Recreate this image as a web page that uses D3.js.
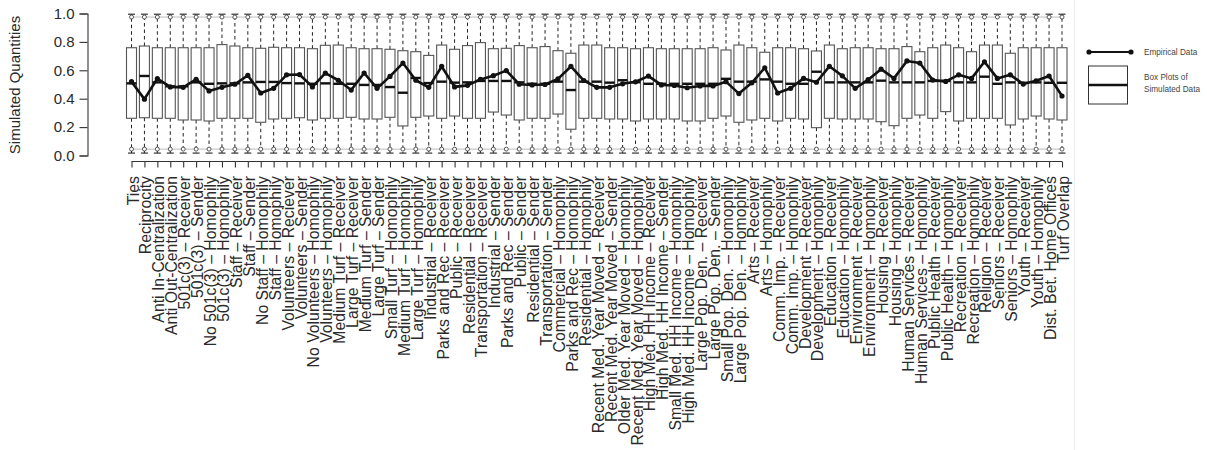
<!DOCTYPE html>
<html>
<head>
<meta charset="utf-8">
<script src="https://cdn.jsdelivr.net/npm/d3@7"></script>
<style>
  body { margin: 0; background: #fff; }
  svg { display: block; }
  text { font-family: "Liberation Sans", Arial, sans-serif; }
</style>
</head>
<body>
<svg id="chart" width="1207" height="450"></svg>
<script>
// Model terms shown along the x axis
const categories = [
  "Ties", "Reciprocity", "Anti In-Centralization", "Anti Out-Centralization",
  "501c(3) – Receiver", "501c(3) – Sender", "No 501c(3) – Homophily", "501c(3) – Homophily",
  "Staff – Receiver", "Staff – Sender", "No Staff – Homophily", "Staff – Homophily",
  "Volunteers – Reciever", "Volunteers – Sender", "No Volunteers – Homophily", "Volunteers – Homophily",
  "Medium Turf – Receiver", "Large Turf – Receiver", "Medium Turf – Sender", "Large Turf – Sender",
  "Small Turf – Homophily", "Medium Turf – Homophily", "Large Turf – Homophily",
  "Industrial – Receiver", "Parks and Rec – Receiver", "Public – Receiver", "Residential – Receiver",
  "Transportation – Receiver", "Industrial – Sender", "Parks and Rec – Sender", "Public – Sender",
  "Residential – Sender", "Transportation – Sender", "Commercial – Homophily",
  "Parks and Rec – Homophily", "Residential – Homophily",
  "Recent Med. Year Moved – Receiver", "Recent Med. Year Moved – Sender",
  "Older Med. Year Moved – Homophily", "Recent Med. Year Moved – Homophily",
  "High Med. HH Income – Receiver", "High Med. HH Income – Sender",
  "Small Med. HH Income – Homophily", "High Med. HH Income – Homophily",
  "Large Pop. Den. – Receiver", "Large Pop. Den. – Sender",
  "Small Pop. Den. – Homophily", "Large Pop. Den. – Homophily",
  "Arts – Receiver", "Arts – Homophily", "Comm. Imp. – Receiver", "Comm. Imp. – Homophily",
  "Development – Receiver", "Development – Homophily", "Education – Receiver", "Education – Homophily",
  "Environment – Receiver", "Environment – Homophily", "Housing – Receiver", "Housing – Homophily",
  "Human Services – Receiver", "Human Services – Homophily", "Public Health – Receiver",
  "Public Health – Homophily", "Recreation – Receiver", "Recreation – Homophily",
  "Religion – Receiver", "Seniors – Receiver", "Seniors – Homophily", "Youth – Receiver",
  "Youth – Homophily", "Dist. Bet. Home Offices", "Turf Overlap"
];

// Simulated quantiles: lower hinge, median, upper hinge
const q1 = [
  0.262, 0.266, 0.262, 0.262, 0.250, 0.250, 0.243, 0.262, 0.262, 0.262, 0.234, 0.257,
  0.262, 0.266, 0.250, 0.262, 0.262, 0.269, 0.257, 0.257, 0.269, 0.208, 0.269, 0.278,
  0.262, 0.278, 0.262, 0.262, 0.306, 0.285, 0.250, 0.262, 0.262, 0.292, 0.185, 0.262, 0.262,
  0.257, 0.257, 0.243, 0.257, 0.257, 0.257, 0.243, 0.243, 0.262, 0.278, 0.234, 0.250,
  0.262, 0.243, 0.262, 0.257, 0.196, 0.262, 0.257, 0.257, 0.257, 0.238, 0.210, 0.262,
  0.285, 0.262, 0.309, 0.243, 0.262, 0.262, 0.262, 0.215, 0.257, 0.278, 0.257, 0.250
];
const median = [
  0.508, 0.560, 0.515, 0.487, 0.487, 0.515, 0.505, 0.508, 0.508, 0.515, 0.518, 0.518,
  0.510, 0.508, 0.505, 0.508, 0.505, 0.505, 0.497, 0.497, 0.482, 0.442, 0.546, 0.510,
  0.520, 0.513, 0.515, 0.525, 0.525, 0.525, 0.515, 0.505, 0.505, 0.520, 0.461, 0.520, 0.520,
  0.513, 0.530, 0.516, 0.505, 0.505, 0.505, 0.505, 0.505, 0.505, 0.540, 0.520, 0.520,
  0.536, 0.520, 0.505, 0.505, 0.590, 0.515, 0.515, 0.515, 0.515, 0.527, 0.515, 0.515,
  0.515, 0.525, 0.525, 0.515, 0.515, 0.555, 0.505, 0.515, 0.512, 0.515, 0.512, 0.512
];
const q3 = [
  0.759, 0.771, 0.759, 0.759, 0.759, 0.759, 0.759, 0.781, 0.771, 0.759, 0.755, 0.762,
  0.759, 0.759, 0.752, 0.776, 0.778, 0.759, 0.752, 0.752, 0.748, 0.738, 0.731, 0.705,
  0.778, 0.748, 0.774, 0.795, 0.752, 0.755, 0.774, 0.759, 0.767, 0.738, 0.720, 0.778, 0.778,
  0.759, 0.759, 0.752, 0.759, 0.752, 0.752, 0.752, 0.752, 0.759, 0.743, 0.778, 0.759,
  0.727, 0.759, 0.759, 0.752, 0.736, 0.778, 0.752, 0.759, 0.759, 0.752, 0.752, 0.767,
  0.731, 0.759, 0.778, 0.759, 0.731, 0.778, 0.778, 0.720, 0.759, 0.759, 0.759, 0.759
];

// Whisker ends of the simulated values
const whiskerLow = [
  0.017, 0.017, 0.017, 0.017, 0.017, 0.017, 0.017, 0.017, 0.017, 0.017, 0.017, 0.017,
  0.017, 0.017, 0.017, 0.017, 0.017, 0.017, 0.017, 0.017, 0.017, 0.017, 0.017, 0.017,
  0.017, 0.017, 0.017, 0.017, 0.017, 0.017, 0.017, 0.017, 0.017, 0.017, 0.017, 0.017, 0.017,
  0.017, 0.017, 0.017, 0.017, 0.017, 0.017, 0.017, 0.017, 0.017, 0.017, 0.017, 0.017,
  0.017, 0.017, 0.017, 0.017, 0.017, 0.017, 0.017, 0.017, 0.017, 0.017, 0.017, 0.017,
  0.017, 0.017, 0.017, 0.017, 0.017, 0.017, 0.017, 0.017, 0.017, 0.017, 0.017, 0.017
];
const whiskerHigh = [
  0.995, 0.995, 0.995, 0.995, 0.995, 0.995, 0.995, 0.995, 0.995, 0.995, 0.995, 0.995,
  0.995, 0.995, 0.995, 0.995, 0.995, 0.995, 0.995, 0.995, 0.995, 0.995, 0.995, 0.995,
  0.995, 0.995, 0.995, 0.995, 0.995, 0.995, 0.995, 0.995, 0.995, 0.995, 0.995, 0.995, 0.995,
  0.995, 0.995, 0.995, 0.995, 0.995, 0.995, 0.995, 0.995, 0.995, 0.995, 0.995, 0.995,
  0.995, 0.995, 0.995, 0.995, 0.995, 0.995, 0.995, 0.995, 0.995, 0.995, 0.995, 0.995,
  0.995, 0.995, 0.995, 0.995, 0.995, 0.995, 0.995, 0.995, 0.995, 0.995, 0.995, 0.995
];

// Outer simulated bounds (open circles joined by a gray line)
const boundLow = [
  0.045, 0.045, 0.045, 0.045, 0.045, 0.045, 0.045, 0.045, 0.045, 0.045, 0.045, 0.045,
  0.045, 0.045, 0.045, 0.045, 0.045, 0.045, 0.045, 0.045, 0.045, 0.045, 0.045, 0.045,
  0.045, 0.045, 0.045, 0.045, 0.045, 0.045, 0.045, 0.045, 0.045, 0.045, 0.045, 0.045, 0.045,
  0.045, 0.045, 0.045, 0.045, 0.045, 0.045, 0.045, 0.045, 0.045, 0.045, 0.045, 0.045,
  0.045, 0.045, 0.045, 0.045, 0.045, 0.045, 0.045, 0.045, 0.045, 0.045, 0.045, 0.045,
  0.045, 0.045, 0.045, 0.045, 0.045, 0.045, 0.045, 0.045, 0.045, 0.045, 0.045, 0.045
];
const boundHigh = [
  0.975, 0.975, 0.975, 0.975, 0.975, 0.975, 0.975, 0.975, 0.975, 0.975, 0.975, 0.975,
  0.975, 0.975, 0.975, 0.975, 0.975, 0.975, 0.975, 0.975, 0.975, 0.975, 0.975, 0.975,
  0.975, 0.975, 0.975, 0.975, 0.975, 0.975, 0.975, 0.975, 0.975, 0.975, 0.975, 0.975, 0.975,
  0.975, 0.975, 0.975, 0.975, 0.975, 0.975, 0.975, 0.975, 0.975, 0.975, 0.975, 0.975,
  0.975, 0.975, 0.975, 0.975, 0.975, 0.975, 0.975, 0.975, 0.975, 0.975, 0.975, 0.975,
  0.975, 0.975, 0.975, 0.975, 0.975, 0.975, 0.975, 0.975, 0.975, 0.975, 0.975, 0.975
];

// Observed (empirical) quantile per term
const empirical = [
  0.520, 0.397, 0.542, 0.483, 0.480, 0.537, 0.455, 0.480, 0.502, 0.564, 0.440, 0.473,
  0.568, 0.570, 0.483, 0.580, 0.530, 0.461, 0.581, 0.473, 0.557, 0.651, 0.530, 0.480,
  0.627, 0.483, 0.494, 0.536, 0.562, 0.598, 0.502, 0.497, 0.500, 0.540, 0.627, 0.528, 0.480,
  0.480, 0.505, 0.519, 0.559, 0.497, 0.493, 0.477, 0.490, 0.490, 0.520, 0.436, 0.512,
  0.618, 0.440, 0.473, 0.543, 0.516, 0.628, 0.561, 0.473, 0.534, 0.608, 0.543, 0.666,
  0.651, 0.531, 0.522, 0.568, 0.543, 0.660, 0.543, 0.568, 0.503, 0.526, 0.560, 0.419
];

const yTicks = [0, 0.2, 0.4, 0.6, 0.8, 1.0];
const yTitle = "Simulated Quantities";
const legendLine = "Empirical Data";
const legendBox = ["Box Plots of", "Simulated Data"];

const svg = d3.select("#chart");
const ink = "#2a2a2a";

const x = d3.scalePoint().domain(categories).range([131.5, 1062]);
const y = d3.scaleLinear().domain([0, 1]).range([155.5, 13.5]);
const boxW = 10;

const rows = categories.map((c, i) => ({
  c, q1: q1[i], med: median[i], q3: q3[i],
  lo: whiskerLow[i], hi: whiskerHigh[i],
  bLo: boundLow[i], bHi: boundHigh[i], emp: empirical[i]
}));

// faint divider of the legend panel
svg.append("line")
  .attr("x1", 1074.5).attr("x2", 1074.5).attr("y1", 0).attr("y2", 450)
  .attr("stroke", "#ececec").attr("stroke-width", 1);

// Y axis
const yAxis = svg.append("g")
  .attr("transform", "translate(87.5,0)")
  .call(d3.axisLeft(y).tickValues(yTicks).tickFormat(d3.format(".1f")).tickSize(8).tickPadding(5));
yAxis.select(".domain").attr("stroke", "#333").attr("stroke-width", 1.1);
yAxis.selectAll(".tick line").attr("stroke", "#333").attr("stroke-width", 1.1);
yAxis.selectAll(".tick text")
  .attr("fill", ink).style("font-size", "15px")
  .style("font-family", "'Liberation Sans', Arial, sans-serif");

svg.append("text")
  .attr("transform", "translate(20,85) rotate(-90)")
  .attr("text-anchor", "middle")
  .attr("fill", ink)
  .style("font-size", "15px")
  .text(yTitle);

// X axis
const xAxis = svg.append("g")
  .attr("transform", "translate(0,161.5)")
  .call(d3.axisBottom(x).tickSize(6).tickSizeOuter(0).tickFormat(""));
xAxis.select(".domain").attr("stroke", "#333").attr("stroke-width", 1.1)
  .attr("d", `M${x(categories[0])},0H${x(categories[categories.length - 1])}`);
xAxis.selectAll(".tick line").attr("stroke", "#333").attr("stroke-width", 1.1);

svg.append("g").selectAll("text")
  .data(categories)
  .join("text")
  .attr("transform", d => `translate(${x(d) + 1.5},176) rotate(-90)`)
  .attr("text-anchor", "end")
  .attr("dy", "0.35em")
  .attr("fill", ink)
  .style("font-size", "15.8px")
  .text(d => d);

// Gray lines joining the outer simulated bounds
const boundLine = key => d3.line().x(d => x(d.c)).y(d => y(d[key]));
svg.append("path").datum(rows).attr("d", boundLine("bHi"))
  .attr("fill", "none").attr("stroke", "#bdbdbd").attr("stroke-width", 1);
svg.append("path").datum(rows).attr("d", boundLine("bLo"))
  .attr("fill", "none").attr("stroke", "#bdbdbd").attr("stroke-width", 1);

const boxes = svg.append("g").selectAll("g").data(rows).join("g");

// dashed whiskers
boxes.append("line")
  .attr("x1", d => x(d.c)).attr("x2", d => x(d.c))
  .attr("y1", d => y(d.q3)).attr("y2", d => y(d.hi))
  .attr("stroke", "#222").attr("stroke-width", 1).attr("stroke-dasharray", "3.5,3");
boxes.append("line")
  .attr("x1", d => x(d.c)).attr("x2", d => x(d.c))
  .attr("y1", d => y(d.q1)).attr("y2", d => y(d.lo))
  .attr("stroke", "#222").attr("stroke-width", 1).attr("stroke-dasharray", "3.5,3");

// whisker caps
boxes.append("line")
  .attr("x1", d => x(d.c) - 3.5).attr("x2", d => x(d.c) + 3.5)
  .attr("y1", d => y(d.hi)).attr("y2", d => y(d.hi))
  .attr("stroke", "#333").attr("stroke-width", 1.2);
boxes.append("line")
  .attr("x1", d => x(d.c) - 3.5).attr("x2", d => x(d.c) + 3.5)
  .attr("y1", d => y(d.lo)).attr("y2", d => y(d.lo))
  .attr("stroke", "#333").attr("stroke-width", 1.2);

// bound markers
boxes.append("circle")
  .attr("cx", d => x(d.c)).attr("cy", d => y(d.bHi)).attr("r", 2)
  .attr("fill", "#fff").attr("stroke", "#444").attr("stroke-width", 0.9);
boxes.append("circle")
  .attr("cx", d => x(d.c)).attr("cy", d => y(d.bLo)).attr("r", 2)
  .attr("fill", "#fff").attr("stroke", "#444").attr("stroke-width", 0.9);

// boxes
boxes.append("rect")
  .attr("x", d => x(d.c) - boxW / 2).attr("width", boxW)
  .attr("y", d => y(d.q3)).attr("height", d => y(d.q1) - y(d.q3))
  .attr("fill", "#fff").attr("stroke", "#555").attr("stroke-width", 1.1);

// medians
boxes.append("line")
  .attr("x1", d => x(d.c) - boxW / 2).attr("x2", d => x(d.c) + boxW / 2)
  .attr("y1", d => y(d.med)).attr("y2", d => y(d.med))
  .attr("stroke", "#111").attr("stroke-width", 2.4);

// empirical line with points
svg.append("path").datum(rows)
  .attr("d", d3.line().x(d => x(d.c)).y(d => y(d.emp)))
  .attr("fill", "none").attr("stroke", "#111").attr("stroke-width", 2.6)
  .attr("stroke-linejoin", "round");
svg.append("g").selectAll("circle").data(rows).join("circle")
  .attr("cx", d => x(d.c)).attr("cy", d => y(d.emp)).attr("r", 2.6)
  .attr("fill", "#111");

// Legend
const lg = svg.append("g");
lg.append("line").attr("x1", 1089).attr("x2", 1131).attr("y1", 52).attr("y2", 52)
  .attr("stroke", "#111").attr("stroke-width", 1.8);
lg.selectAll("circle.ld").data([1089, 1131]).join("circle")
  .attr("cx", d => d).attr("cy", 52).attr("r", 2.6).attr("fill", "#111");
lg.append("text").attr("x", 1144).attr("y", 55)
  .attr("fill", "#444").style("font-size", "8.2px").text(legendLine);
lg.append("rect").attr("x", 1088.5).attr("y", 66).attr("width", 39).attr("height", 38)
  .attr("fill", "#fff").attr("stroke", "#333").attr("stroke-width", 1);
lg.append("line").attr("x1", 1088.5).attr("x2", 1127.5).attr("y1", 85).attr("y2", 85)
  .attr("stroke", "#111").attr("stroke-width", 2.6);
lg.selectAll("text.lb").data(legendBox).join("text")
  .attr("x", 1144).attr("y", (d, i) => 80 + i * 12)
  .attr("fill", "#444").style("font-size", "8.2px").text(d => d);
</script>
</body>
</html>
